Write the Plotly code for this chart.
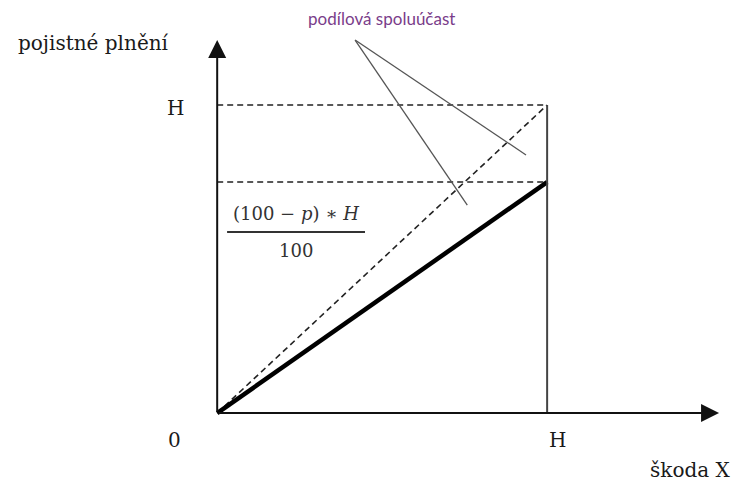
import plotly.graph_objects as go

# Data (H = 100, coinsurance share p = 25 %)
H = 100
p = 25
x_pts = [0, H]
full_cover = [0, H]                       # dashed diagonal (no coinsurance)
coins_cover = [0, (100 - p) * H / 100]   # solid: insurer's payment
x_tick_labels = ["0", "H"]
y_tick_labels = ["H"]
label_x = "škoda X"
label_y = "pojistné plnění"
note = "podílová spoluúčast"

x_range = [-63.4, 163.0]
y_range = [-26.6, 131.5]
x_tip = 152.1
y_tip = 121.1

fig = go.Figure()

dash = "6px,4px"
fig.add_trace(go.Scatter(x=x_pts, y=full_cover, mode="lines",
                         line=dict(color="#222", width=1.6, dash=dash), hoverinfo="skip"))
fig.add_trace(go.Scatter(x=x_pts, y=coins_cover, mode="lines",
                         line=dict(color="#000", width=4.5), hoverinfo="skip"))
for yv in [full_cover[1], coins_cover[1]]:
    fig.add_trace(go.Scatter(x=[0, H], y=[yv, yv], mode="lines",
                             line=dict(color="#222", width=1.6, dash=dash), hoverinfo="skip"))
fig.add_trace(go.Scatter(x=[H, H], y=[0, H], mode="lines",
                         line=dict(color="#444", width=2), hoverinfo="skip"))

# pointer lines from the note
ptr_origin = (41.8, 121.1)
ptr_ends = [(93.6, 83.8), (75.8, 67.5)]
for ex, ey in ptr_ends:
    fig.add_trace(go.Scatter(x=[ptr_origin[0], ex], y=[ptr_origin[1], ey], mode="lines",
                             line=dict(color="#555", width=1.3), hoverinfo="skip"))

# fraction bar
fig.add_trace(go.Scatter(x=[3.0, 44.8], y=[58.8, 58.8], mode="lines",
                         line=dict(color="#333", width=2), hoverinfo="skip"))

annotations = []
for tx, ty in [(x_tip, 0), (0, y_tip)]:
    annotations.append(dict(x=tx, y=ty, ax=0, ay=0, xref="x", yref="y", axref="x", ayref="y",
                            showarrow=True, arrowhead=2, arrowsize=1.8, arrowwidth=2,
                            arrowcolor="#111", text=""))

serif = "DejaVu Serif"
txt = dict(xref="x", yref="y", showarrow=False, font=dict(family=serif, size=20, color="#1a1a1a"))
annotations += [
    dict(x=-37.6, y=120.2, text=label_y, **txt),
    dict(x=-12.7, y=99.0, text=y_tick_labels[0], **txt),
    dict(x=-13.0, y=-8.8, text=x_tick_labels[0], **txt),
    dict(x=103.0, y=-8.8, text=x_tick_labels[1], **txt),
    dict(x=143.6, y=-18.5, text=label_x, **txt),
    dict(x=49.7, y=128.2, text=note, xref="x", yref="y", showarrow=False,
         font=dict(family="Lato", size=17, color="#7a3d8a")),
    dict(x=23.9, y=64.9, text="(100 − <i>p</i>) ∗ <i>H</i>", xref="x", yref="y", showarrow=False,
         font=dict(family=serif, size=18, color="#333")),
    dict(x=23.9, y=52.9, text="100", xref="x", yref="y", showarrow=False,
         font=dict(family=serif, size=18, color="#333")),
]

fig.update_layout(
    width=747, height=487,
    margin=dict(l=0, r=0, t=0, b=0),
    paper_bgcolor="white", plot_bgcolor="white",
    showlegend=False,
    xaxis=dict(range=x_range, visible=False),
    yaxis=dict(range=y_range, visible=False),
    annotations=annotations,
)

fig.write_html("out.html")
